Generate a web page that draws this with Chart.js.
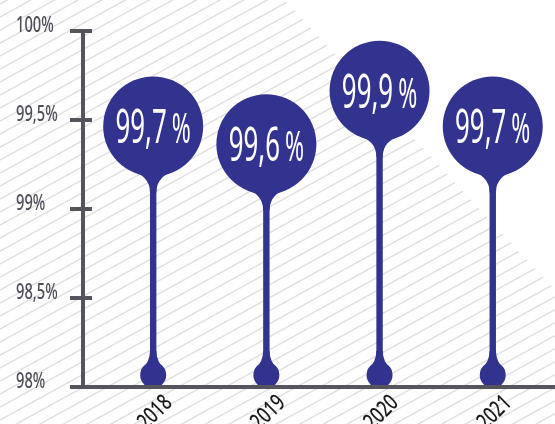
<!DOCTYPE html>
<html>
<head>
<meta charset="utf-8">
<script src="https://cdn.jsdelivr.net/npm/chart.js@4.4.0/dist/chart.umd.min.js"></script>
<style>
  html, body { margin: 0; padding: 0; background: #fff; }
</style>
</head>
<body>
<canvas id="chart" width="555" height="424"></canvas>
<script>
const years = ['2018', '2019', '2020', '2021'];
const uptime = [99.7, 99.6, 99.9, 99.7];
const yTickValues = [98, 98.5, 99, 99.5, 100];
const yTickLabels = ['98%', '98,5%', '99%', '99,5%', '100%'];

const NAVY = '#32338e';
const AXIS = '#56555e';
const FONT = "'Noto Sans'";

// text squeezed horizontally, to look like the condensed face of the original
function narrowText(ctx, text, x, y, size, squeeze, rot, weight) {
    ctx.save();
    ctx.translate(x, y);
    if (rot) ctx.rotate(rot);
    ctx.scale(squeeze, 1);
    ctx.font = 'normal ' + (weight || 400) + ' ' + size + 'px ' + FONT;
    ctx.fillText(text, 0, 0);
    ctx.restore();
}

function textWidth(ctx, text, size, squeeze) {
    ctx.font = 'normal 400 ' + size + 'px ' + FONT;
    return ctx.measureText(text).width * squeeze;
}

// light diagonal hatching behind everything
const stripes = {
    id: 'stripes',
    beforeDraw(chart) {
        const ctx = chart.ctx;
        const w = chart.width, h = chart.height;
        ctx.save();
        ctx.fillStyle = '#fff';
        ctx.fillRect(0, 0, w, h);
        ctx.beginPath();
        ctx.moveTo(0, 0);
        ctx.lineTo(285, 0);
        ctx.lineTo(w, 290);
        ctx.lineTo(w, h);
        ctx.lineTo(0, h);
        ctx.closePath();
        ctx.clip();
        ctx.strokeStyle = '#e0e0e0';
        ctx.lineWidth = 1.5;
        for (let c = 4; c < h + w * 0.55 + 20; c += 13) {
            ctx.beginPath();
            ctx.moveTo(0, c);
            ctx.lineTo(w, c - w * 0.55);
            ctx.stroke();
        }
        ctx.restore();
    }
};

// balloon heads, stems and feet at each data point
const lollipops = {
    id: 'lollipops',
    afterDatasetsDraw(chart) {
        const ctx = chart.ctx;
        const meta = chart.getDatasetMeta(0);
        const base = chart.scales.y.getPixelForValue(98);
        const R = 50, drop = 42, stem = 3.2;
        ctx.save();
        meta.data.forEach((pt, i) => {
            const cx = pt.x, cy = pt.y + drop;
            ctx.fillStyle = NAVY;
            ctx.beginPath();
            ctx.arc(cx, cy, R, 0, Math.PI * 2);
            ctx.fill();

            // neck
            const a = 0.5;
            const nx = R * Math.sin(a), ny = R * Math.cos(a);
            ctx.beginPath();
            ctx.moveTo(cx - nx, cy + ny);
            ctx.quadraticCurveTo(cx - stem, cy + R - 1, cx - stem, cy + R + 16);
            ctx.lineTo(cx + stem, cy + R + 16);
            ctx.quadraticCurveTo(cx + stem, cy + R - 1, cx + nx, cy + ny);
            ctx.closePath();
            ctx.fill();

            ctx.fillRect(cx - stem, cy + R, stem * 2, base - cy - R);

            // foot
            const fr = 13, fy = base - 12;
            ctx.beginPath();
            ctx.arc(cx, fy, fr, 0, Math.PI * 2);
            ctx.fill();
            ctx.beginPath();
            ctx.moveTo(cx - stem, fy - 24);
            ctx.quadraticCurveTo(cx - stem, fy - 13, cx - fr + 1, fy - 5);
            ctx.lineTo(cx + fr - 1, fy - 5);
            ctx.quadraticCurveTo(cx + stem, fy - 13, cx + stem, fy - 24);
            ctx.closePath();
            ctx.fill();

            // value text
            const num = uptime[i].toFixed(1).replace('.', ',');
            ctx.fillStyle = '#fff';
            ctx.textAlign = 'left';
            ctx.textBaseline = 'alphabetic';
            const nw = textWidth(ctx, num, 47, 0.55);
            const pw = textWidth(ctx, '%', 41, 0.56);
            const gap = 5;
            const x0 = cx - (nw + gap + pw) / 2;
            const by = cy + 17;
            narrowText(ctx, num, x0, by, 47, 0.55);
            narrowText(ctx, '%', x0 + nw + gap, by, 41, 0.56);
        });
        ctx.restore();
    }
};

// thick axis lines, ticks crossing the y axis, and the tick labels
const axes = {
    id: 'axes',
    afterDatasetsDraw(chart) {
        const { ctx, chartArea, scales: { x, y } } = chart;
        const ax = chartArea.left;
        const top = y.getPixelForValue(100), bottom = y.getPixelForValue(98);
        ctx.save();
        ctx.strokeStyle = AXIS;
        ctx.lineWidth = 4;
        ctx.beginPath();
        ctx.moveTo(ax, top - 2);
        ctx.lineTo(ax, bottom);
        ctx.moveTo(ax - 13, bottom);
        ctx.lineTo(chartArea.right, bottom);
        y.ticks.forEach(t => {
            if (t.value > 98) {
                const py = y.getPixelForValue(t.value);
                ctx.moveTo(ax - 13, py);
                ctx.lineTo(ax + 9, py);
            }
        });
        ctx.stroke();

        ctx.textAlign = 'left';
        ctx.textBaseline = 'alphabetic';
        ctx.fillStyle = '#4e4e58';
        y.ticks.forEach((t, i) => {
            narrowText(ctx, yTickLabels[i], 16, y.getPixelForValue(t.value) + 1, 21, 0.7, 0, 500);
        });

        ctx.textAlign = 'right';
        ctx.fillStyle = '#1a1a1a';
        x.ticks.forEach((t, i) => {
            narrowText(ctx, years[i], x.getPixelForValue(t.value) + 20, bottom + 17, 23, 0.72, -Math.PI / 4, 500);
        });
        ctx.restore();
    }
};

new Chart(document.getElementById('chart'), {
    type: 'line',
    data: {
        datasets: [{
            data: uptime.map((v, i) => ({ x: i, y: v })),
            showLine: false,
            pointRadius: 0,
            pointHoverRadius: 0
        }]
    },
    options: {
        responsive: false,
        animation: false,
        layout: { padding: { left: 16, top: 31, right: 0, bottom: 0 } },
        plugins: { legend: { display: false }, tooltip: { enabled: false } },
        scales: {
            x: {
                type: 'linear',
                min: -0.62,
                max: 3.55,
                grid: { display: false, drawTicks: false },
                border: { display: false },
                afterBuildTicks: s => { s.ticks = years.map((_, i) => ({ value: i })); },
                afterFit: s => { s.height = 37; },
                ticks: { display: false }
            },
            y: {
                min: 98,
                max: 100,
                grid: { display: false, drawTicks: false },
                border: { display: false },
                afterBuildTicks: s => { s.ticks = yTickValues.map(v => ({ value: v })); },
                afterFit: s => { s.width = 67; },
                ticks: { display: false }
            }
        }
    },
    plugins: [stripes, lollipops, axes]
});
</script>
</body>
</html>
